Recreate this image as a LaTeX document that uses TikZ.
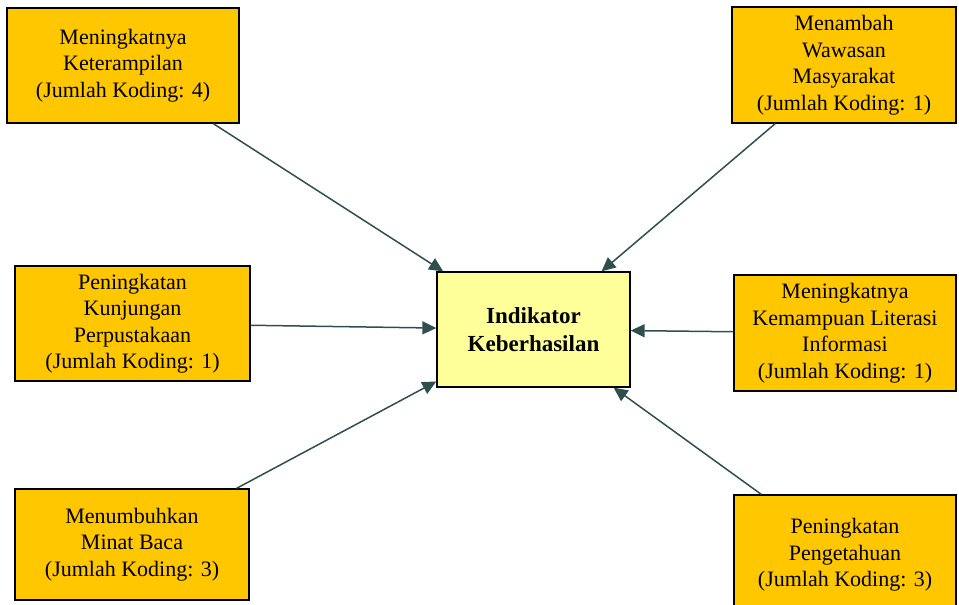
\documentclass[tikz,border=0pt]{standalone}
\usepackage{fontspec}
\setmainfont{Liberation Serif}
\usetikzlibrary{arrows.meta}
\definecolor{gold}{HTML}{FFC700}
\definecolor{paleyellow}{HTML}{FFFF99}
\definecolor{arrowgrey}{HTML}{2F4F4F}

\begin{document}
\begin{tikzpicture}[x=1pt,y=-1pt,
    box/.style={draw=black,line width=1.3pt,fill=gold,inner sep=0pt,align=center,
                font=\fontsize{22}{26.5}\selectfont},
    hub/.style={draw=black,line width=1.3pt,fill=paleyellow,inner sep=0pt,align=center,
                font=\fontsize{23}{28}\selectfont\bfseries,
                minimum width=193pt,minimum height=115pt},
    link/.style={draw=arrowgrey,line width=1.5pt,-{Triangle[length=14pt,width=13pt]}}]
  \useasboundingbox (0,0) rectangle (959,605);

  % centre
  \node[hub] (ind) at (533.5,329.5) {Indikator\\Keberhasilan};

  % left column
  \node[box,minimum width=232pt,minimum height=115pt] (skill) at (123,65.5)
    {Meningkatnya\\Keterampilan\\(Jumlah Koding: 4)};
  \node[box,minimum width=235pt,minimum height=115pt] (visit) at (132.5,323.5)
    {Peningkatan\\Kunjungan\\Perpustakaan\\(Jumlah Koding: 1)};
  \node[box,minimum width=234pt,minimum height=111pt] (read) at (132,544.5)
    {Menumbuhkan\\Minat Baca\\(Jumlah Koding: 3)};

  % right column
  \node[box,minimum width=224pt,minimum height=116pt] (insight) at (844,65)
    {Menambah\\Wawasan\\Masyarakat\\(Jumlah Koding: 1)};
  \node[box,minimum width=222pt,minimum height=116pt] (literacy) at (845,333)
    {Meningkatnya\\Kemampuan Literasi\\Informasi\\(Jumlah Koding: 1)};
  \node[box,minimum width=222pt,minimum height=120pt] (know) at (845,555)
    {Peningkatan\\Pengetahuan\\(Jumlah Koding: 3)};

  % arrows
  \foreach \src in {skill,visit,read,insight,literacy,know}
    \draw[link] (\src) -- (ind);
\end{tikzpicture}
\end{document}
